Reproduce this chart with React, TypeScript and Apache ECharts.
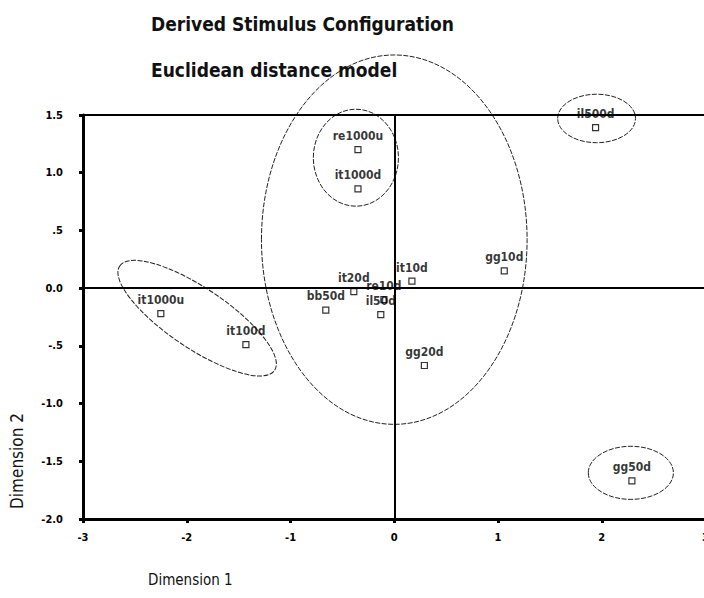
import React, { useEffect, useRef } from "react";
import * as echarts from "echarts";

const stimulusNames = ["re1000u", "it1000d", "il500d", "gg10d", "it10d", "it20d", "bb50d", "re10d", "il50d", "it1000u", "it100d", "gg20d", "gg50d"];
const dimension1 = [-0.35, -0.35, 1.94, 1.06, 0.17, -0.39, -0.66, -0.1, -0.13, -2.25, -1.43, 0.29, 2.29];
const dimension2 = [1.2, 0.86, 1.39, 0.15, 0.06, -0.03, -0.19, -0.1, -0.23, -0.22, -0.49, -0.67, -1.67];

const xTicks = [-3, -2, -1, 0, 1, 2, 3];
const yTickLabels: Record<string, string> = { "1.5": "1.5", "1": "1.0", "0.5": ".5", "0": "0.0", "-0.5": "-.5", "-1": "-1.0", "-1.5": "-1.5", "-2": "-2.0" };

// hand-drawn cluster ellipses (data units)
const clusterCx = [0.0, -0.37, 1.95, 2.28, -1.9];
const clusterCy = [0.42, 1.13, 1.47, -1.6, -0.26];
const clusterRx = [1.28, 0.41, 0.375, 0.41, 0.9];
const clusterRy = [1.6, 0.42, 0.21, 0.23, 0.26];
const clusterRot = [0, 0, 0, 0, -34];

const FONT = "DejaVu Sans Condensed, DejaVu Sans, sans-serif";

export default function App() {
  const ref = useRef<HTMLDivElement>(null);
  useEffect(() => {
    if (!ref.current) return;
    const chart = echarts.init(ref.current, null, { renderer: "svg" });
    const points = dimension1.map((x, i) => ({ value: [x, dimension2[i]], name: stimulusNames[i] }));
    chart.setOption({
      animation: false,
      backgroundColor: "#fff",
      title: [
        { text: "Derived Stimulus Configuration", left: 146, top: 9, textStyle: { fontFamily: FONT, fontSize: 19, fontWeight: "bold", color: "#111" } },
        { text: "Euclidean distance model", left: 146, top: 55, textStyle: { fontFamily: FONT, fontSize: 19, fontWeight: "bold", color: "#111" } },
      ],
      grid: { left: 83, top: 115, right: 5, bottom: 79 },
      xAxis: {
        type: "value", min: -3, max: 3, interval: 1,
        axisLine: { show: true, onZero: false, lineStyle: { color: "#000", width: 3 } },
        axisTick: { show: true, length: 4, lineStyle: { color: "#000", width: 3 } },
        splitLine: { show: false },
        axisLabel: { fontFamily: FONT, fontSize: 11, fontWeight: "bold", color: "#000", margin: 13, formatter: (v: number) => (xTicks.includes(v) ? String(v) : "") },
      },
      yAxis: {
        type: "value", min: -2, max: 1.5, interval: 0.5,
        axisLine: { show: true, onZero: false, lineStyle: { color: "#000", width: 3 } },
        axisTick: { show: true, length: 4, lineStyle: { color: "#000", width: 3 } },
        splitLine: { show: false },
        axisLabel: { fontFamily: FONT, fontSize: 11, fontWeight: "bold", color: "#000", margin: 20, formatter: (v: number) => yTickLabels[String(v)] ?? "" },
      },
      series: [
        {
          type: "scatter",
          data: points,
          symbol: "rect",
          symbolSize: 6,
          itemStyle: { color: "#fff", borderColor: "#000", borderWidth: 1.2 },
          label: { show: true, position: "top", distance: 4, formatter: "{b}", fontFamily: FONT, fontSize: 12, fontWeight: "bold", color: "#000" },
          markLine: {
            silent: true, symbol: "none", label: { show: false },
            lineStyle: { color: "#000", width: 2, type: "solid" },
            data: [{ xAxis: 0 }, { yAxis: 0 }, { yAxis: 1.5 }],
          },
        },
      ],
    });

    const toPx = (p: number[]) => chart.convertToPixel({ gridIndex: 0 }, p) as number[];
    const ellipses = clusterCx.map((cx, i) => {
      const c = toPx([cx, clusterCy[i]]);
      const ex = toPx([cx + clusterRx[i], clusterCy[i]]);
      const ey = toPx([cx, clusterCy[i] + clusterRy[i]]);
      return {
        type: "ellipse", x: c[0], y: c[1], rotation: (clusterRot[i] * Math.PI) / 180, silent: true, z: 1,
        shape: { cx: 0, cy: 0, rx: Math.abs(ex[0] - c[0]), ry: Math.abs(ey[1] - c[1]) },
        style: { fill: "none", stroke: "#222", lineWidth: 1, lineDash: [5, 1.5] },
      };
    });
    chart.setOption({
      graphic: [
        ...ellipses,
        { type: "text", x: 17, y: 461, rotation: Math.PI / 2, silent: true, style: { text: "Dimension 2", fontFamily: FONT, fontSize: 17, fill: "#111", align: "center", verticalAlign: "middle" } },
        { type: "text", x: 148, y: 580, silent: true, style: { text: "Dimension 1", fontFamily: FONT, fontSize: 15, fill: "#111", align: "left", verticalAlign: "middle" } },
      ],
    });
    return () => chart.dispose();
  }, []);
  return <div ref={ref} style={{ position: "fixed", left: 0, top: 0, width: 712, height: 598 }} />;
}
